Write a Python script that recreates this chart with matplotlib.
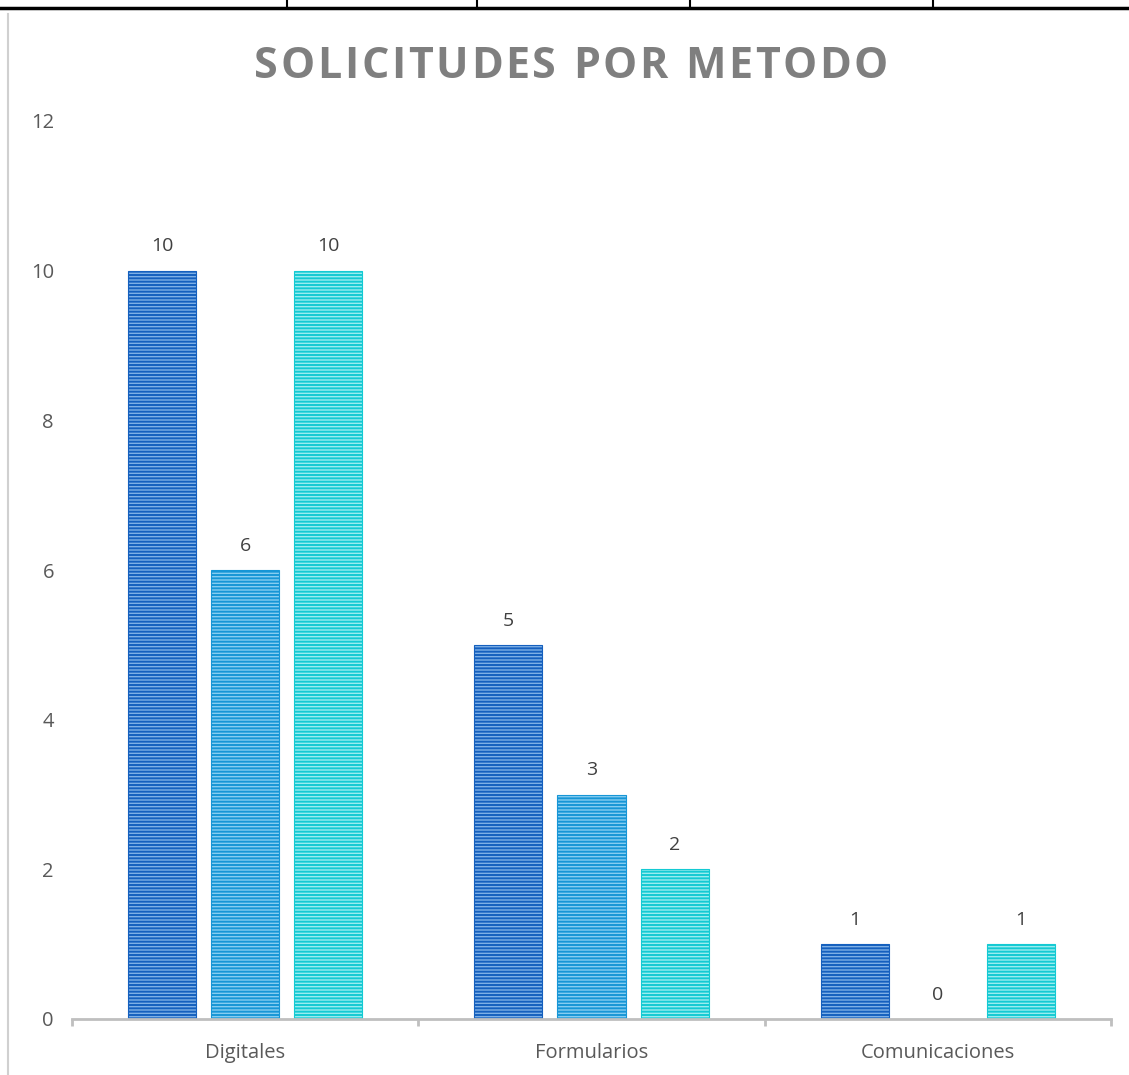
import numpy as np
import matplotlib
matplotlib.use("Agg")
import matplotlib.pyplot as plt
from matplotlib.lines import Line2D

# data
categories = ["Digitales", "Formularios", "Comunicaciones"]
series_names = ["Serie 1", "Serie 2", "Serie 3"]
serie_1 = [10, 5, 1]
serie_2 = [6, 3, 0]
serie_3 = [10, 2, 1]
y_ticks = [0, 2, 4, 6, 8, 10, 12]
title = "SOLICITUDES POR METODO"

face_colors = ["#7eb0e6", "#86cdf1", "#9aecef"]
stripe_colors = ["#1560be", "#1796d6", "#14cad3"]

plt.rcParams['font.family'] = ['Open Sans', 'DejaVu Sans']
plt.rcParams['hatch.linewidth'] = 1.4

W, H = 1129, 1075
fig = plt.figure(figsize=(W / 100, H / 100), dpi=100)
ax = fig.add_axes([72 / W, 1 - 1019 / H, (1111 - 72) / W, (1019 - 121) / H])

x = np.arange(len(categories))
width = 0.197
offset = 0.24
all_series = [serie_1, serie_2, serie_3]
for i, vals in enumerate(all_series):
    pos = x + (i - 1) * offset
    bars = ax.bar(pos, vals, width, color=face_colors[i], edgecolor=stripe_colors[i],
                  linewidth=0.8, hatch="-----", label=series_names[i], zorder=2)
    for b, v in zip(bars, vals):
        ax.annotate(str(v), (b.get_x() + b.get_width() / 2, v), xytext=(0, 17.5),
                    textcoords="offset points", ha="center", va="center",
                    fontsize=14, color="#404040")

ax.set_xlim(-0.5, 2.5)
ax.set_ylim(0, 12)
ax.set_yticks(y_ticks)
ax.set_xticks(x)
ax.set_xticklabels(categories)
ax.set_xticks([-0.5, 0.5, 1.5, 2.5], minor=True)
ax.tick_params(axis="x", which="major", length=0, pad=17, labelsize=14.5, labelcolor="#595959")
ax.tick_params(axis="x", which="minor", length=5, width=2, color="#bfbfbf")
ax.tick_params(axis="y", length=0, pad=13, labelsize=14.5, labelcolor="#595959")
for s in ["top", "right", "left"]:
    ax.spines[s].set_visible(False)
ax.spines["bottom"].set_color("#bfbfbf")
ax.spines["bottom"].set_linewidth(2)

# title with letter spacing: place characters one by one
renderer = fig.canvas.get_renderer()
title_kw = dict(fontsize=31, fontweight="bold", color="#7f7f7f", va="baseline", ha="left")
space_px = 12
spacing_px = 2.6
widths = []
for ch in title:
    if ch == " ":
        widths.append(space_px)
        continue
    t = fig.text(0, 0, ch, **title_kw)
    widths.append(t.get_window_extent(renderer).width)
    t.remove()
total = sum(widths) + spacing_px * (len(title) - 1)
cx = 571
xpos = cx - total / 2
for ch, w in zip(title, widths):
    if ch != " ":
        fig.text(xpos / W, 1 - 78 / H, ch, **title_kw)
    xpos += w + spacing_px

# page decorations (table border above, left sheet border)
fig.add_artist(Line2D([0, 1], [1 - 8 / H] * 2, color="black", lw=2.5))
for xp in [287, 477, 690, 933]:
    fig.add_artist(Line2D([xp / W] * 2, [1, 1 - 8 / H], color="black", lw=1.5))
fig.add_artist(Line2D([8 / W] * 2, [0, 1 - 14 / H], color="#d0d0d0", lw=1.5))

fig.savefig("out.png", dpi=100)
